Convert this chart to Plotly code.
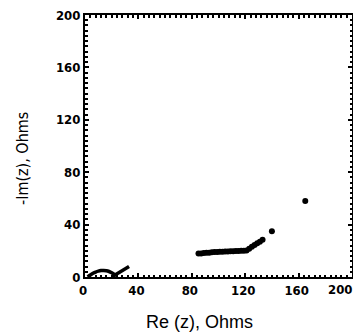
import plotly.graph_objects as go

# Low-frequency arc near origin
arc_re = [2, 4, 6, 8, 10, 12, 14, 16, 18, 20, 22, 23]
arc_im = [0, 1.5, 2.8, 3.8, 4.5, 4.9, 5.0, 4.8, 4.2, 3.2, 1.8, 0.6]
# Tail rising from arc
tail_re = [20, 22, 24, 26, 28, 30, 32, 33]
tail_im = [0, 1.2, 2.4, 3.6, 4.8, 6.0, 7.2, 8.0]
# Shifted series
pts_re = [85, 87, 89, 91, 93, 95, 97, 99, 101, 103, 105, 107, 109, 111, 113, 115, 117, 119, 121,
          123, 125, 127, 129, 131, 133, 140, 165]
pts_im = [18, 18, 18.3, 18.5, 18.6, 18.8, 19, 19, 19.2, 19.3, 19.4, 19.5, 19.6, 19.7, 19.8, 19.9, 20, 20, 20.3,
          21.5, 23, 24.5, 25.8, 27, 28.5, 35, 58]

x_ticks = [0, 40, 80, 120, 160, 200]
y_ticks = [0, 40, 80, 120, 160, 200]
x_title = "Re (z), Ohms"
y_title = "-Im(z), Ohms"

fig = go.Figure()
fig.add_trace(go.Scatter(x=arc_re, y=arc_im, mode="lines", line=dict(color="black", width=3.5, shape="spline"),
                         showlegend=False))
fig.add_trace(go.Scatter(x=tail_re, y=tail_im, mode="lines", line=dict(color="black", width=3.5),
                         showlegend=False))
fig.add_trace(go.Scatter(x=pts_re, y=pts_im, mode="markers", marker=dict(color="black", size=6),
                         showlegend=False))

tick_font = dict(family="DejaVu Sans Condensed, DejaVu Sans, sans-serif", size=13, color="black", weight="bold")

axis_common = dict(
    showline=True, linecolor="black", linewidth=2, mirror="allticks",
    ticks="inside", ticklen=4, tickwidth=2, tickcolor="black",
    showgrid=False, zeroline=False, automargin=False,
    tickfont=tick_font, ticklabeloverflow="allow",
    minor=dict(ticks="inside", ticklen=2.5, tickwidth=1.5, tickcolor="black", dtick=4, tick0=0),
)

# last x label drawn separately so it is not clipped at the right edge
x_ticktext = [str(v) for v in x_ticks[:-1]] + [""]
fig.update_xaxes(range=[0, 200], tickvals=x_ticks, ticktext=x_ticktext, ticklabelshift=-2, **axis_common)
fig.update_yaxes(range=[0, 200], tickvals=y_ticks, ticktext=[str(v) for v in y_ticks], **axis_common)

fig.add_annotation(text=str(x_ticks[-1]), xref="x", yref="paper", x=x_ticks[-1], y=0,
                   xanchor="right", yanchor="top", yshift=-3, xshift=2, showarrow=False, font=tick_font)

fig.add_annotation(text=x_title, xref="paper", yref="paper", x=0.43, y=-0.172,
                   xanchor="center", yanchor="middle", showarrow=False,
                   font=dict(family="Liberation Sans, sans-serif", size=18, color="black"))
fig.add_annotation(text=y_title, xref="paper", yref="paper", x=-0.236, y=0.454,
                   xanchor="center", yanchor="middle", showarrow=False, textangle=-90,
                   font=dict(family="DejaVu Sans Condensed, DejaVu Sans, sans-serif", size=16, color="black"))

fig.update_layout(width=353, height=328, margin=dict(l=77, r=9, t=7, b=59),
                  plot_bgcolor="white", paper_bgcolor="white")

fig.write_html("out.html")
